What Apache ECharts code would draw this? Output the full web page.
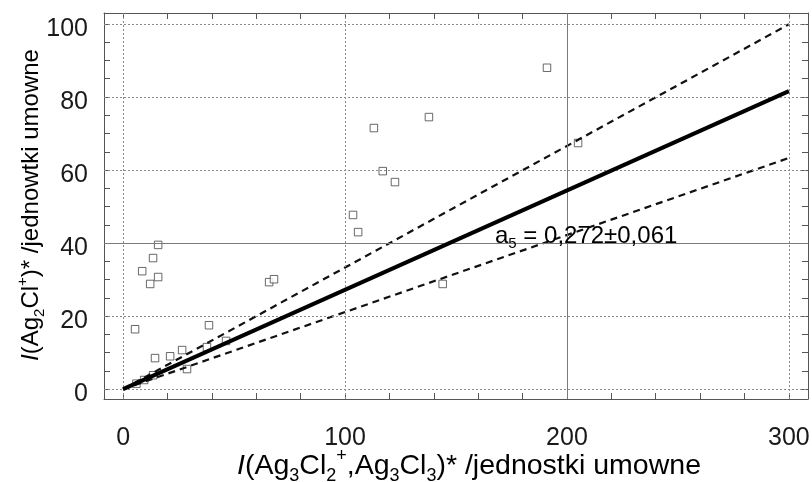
<!DOCTYPE html>
<html>
<head>
<meta charset="utf-8">
<script src="https://cdn.jsdelivr.net/npm/echarts@6/dist/echarts.min.js"></script>
<style>
html,body{margin:0;padding:0;background:#fff;}
#chart{width:812px;height:482px;}
</style>
</head>
<body>
<div id="chart"></div>
<script>
// Scatter data: I(Ag3Cl2+,Ag3Cl3)* vs I(Ag2Cl+)*
var pointsX = [5.4, 8.6, 12.2, 13.5, 15.8, 15.8, 14.4, 21.2, 26.6, 28.8, 37.8, 38.7, 46.4, 6.0, 9.5, 13.5, 65.8, 68.0, 103.6, 105.9, 113.0, 117.0, 122.5, 137.8, 144.0, 191.0, 205.0];
var pointsY = [16.4, 32.3, 28.8, 35.9, 39.5, 30.7, 8.5, 9.0, 10.7, 5.5, 11.5, 17.5, 13.2, 1.5, 2.5, 3.8, 29.3, 30.1, 47.7, 43.0, 71.5, 59.7, 56.7, 74.5, 28.8, 88.0, 67.4];

// Fit line (slope 0.272) and its bounds (±0.061)
var fitX = [0, 300];
var fitY = [0, 81.6];
var upperY = [0, 99.9];
var lowerY = [0, 63.3];

// Tick / label values
var xLabels = [0, 100, 200, 300];
var yLabels = [0, 20, 40, 60, 80, 100];
var xTicks = [0,20,40,60,80,100,120,140,160,180,200,220,240,260,280,300];
var yTicks = [0,5,10,15,20,25,30,35,40,45,50,55,60,65,70,75,80,85,90,95,100];
var gridXDotted = [0, 100, 300];
var gridXSolid = [200];
var gridYDotted = [0, 20, 60, 80, 100];
var gridYSolid = [40];

var annotation = '{a|a}{s|5}{a| = 0,272±0,061}';

function pairs(xs, ys){ return xs.map(function(x,i){ return [x, ys[i]]; }); }

var chart = echarts.init(document.getElementById('chart'), null, {renderer:'canvas'});

var FONT = 'Liberation Sans, Arial, sans-serif';
var TXT = '#1a1a1a';
var AX = '#555';

var dottedStyle = {type:[2,2], color:'#8a8a8a', width:1};
var solidStyle = {type:'solid', color:'#7a7a7a', width:1};
var gridLines = []
  .concat(gridXDotted.map(function(v){ return {xAxis:v, lineStyle:dottedStyle}; }))
  .concat(gridXSolid.map(function(v){ return {xAxis:v, lineStyle:solidStyle}; }))
  .concat(gridYDotted.map(function(v){ return {yAxis:v, lineStyle:dottedStyle}; }))
  .concat(gridYSolid.map(function(v){ return {yAxis:v, lineStyle:solidStyle}; }));

function richFor(size){
  var s = Math.round(size*0.62);
  return {
    i:{fontFamily:FONT, fontSize:size, fontStyle:'italic', color:TXT, lineHeight:Math.round(size*1.35)},
    n:{fontFamily:FONT, fontSize:size, color:TXT, lineHeight:Math.round(size*1.35)},
    sub:{fontFamily:FONT, fontSize:s, color:TXT, lineHeight:s, verticalAlign:'bottom'},
    sup:{fontFamily:FONT, fontSize:s, color:TXT, lineHeight:s, verticalAlign:'top'}
  };
}

function xTickAxis(pos, showLabel){
  return {
    type:'value', position:pos, min:-8.6, max:308.6,
    axisLine:{show:true, onZero:false, lineStyle:{color:AX, width:1}},
    axisTick:{show:true, inside:true, length:6, customValues:xTicks, lineStyle:{color:AX}},
    axisLabel:{show:showLabel, customValues:xLabels, margin:27, fontSize:25, fontFamily:FONT, color:TXT},
    splitLine:{show:false}
  };
}
function yTickAxis(pos, showLabel){
  return {
    type:'value', position:pos, min:-2.7, max:103,
    axisLine:{show:true, onZero:false, lineStyle:{color:AX, width:1}},
    axisTick:{show:true, inside:true, length:6, customValues:yTicks, lineStyle:{color:AX}},
    axisLabel:{show:showLabel, customValues:yLabels, margin:16, fontSize:25, fontFamily:FONT, color:TXT, verticalAlign:'top', lineHeight:10},
    splitLine:{show:false}
  };
}

var option = {
  backgroundColor:'#fff',
  animation:false,
  grid:{left:104, right:4, top:13, bottom:83, outerBoundsMode:'none', containLabel:false},
  xAxis:[xTickAxis('bottom', true), xTickAxis('top', false)],
  yAxis:[yTickAxis('left', true), yTickAxis('right', false)],
  series:[
    {
      type:'line', data:[], xAxisIndex:0, yAxisIndex:0, z:1, silent:true,
      markLine:{silent:true, symbol:['none','none'], label:{show:false}, data:gridLines, animation:false}
    },
    {
      type:'scatter', data:pairs(pointsX, pointsY), xAxisIndex:0, yAxisIndex:0, z:3,
      symbol:'rect', symbolSize:7.5,
      itemStyle:{color:'#fff', borderColor:'#444', borderWidth:1}
    },
    {
      type:'line', data:pairs(fitX, upperY), xAxisIndex:0, yAxisIndex:0, z:4,
      symbol:'none', lineStyle:{color:'#111', width:2.2, type:[7,5]}
    },
    {
      type:'line', data:pairs(fitX, lowerY), xAxisIndex:0, yAxisIndex:0, z:4,
      symbol:'none', lineStyle:{color:'#111', width:2.2, type:[7,5]}
    },
    {
      type:'line', data:pairs(fitX, fitY), xAxisIndex:0, yAxisIndex:0, z:5,
      symbol:'none', lineStyle:{color:'#000', width:4}
    }
  ],
  graphic:[
    {
      type:'text', x:469, y:466, z:10,
      style:{
        text:'{i|I}{n|(Ag}{sub|3}{n|Cl}{sub|2}{sup|+}{n|,Ag}{sub|3}{n|Cl}{sub|3}{n|)* /jednostki umowne}',
        rich:richFor(28.5), align:'center', verticalAlign:'middle'
      }
    },
    {
      type:'text', x:31, y:205, rotation:Math.PI/2, z:10,
      style:{
        text:'{i|I}{n|(Ag}{sub|2}{n|Cl}{sup|+}{n|)* /jednowtki umowne}',
        rich:richFor(24), align:'center', verticalAlign:'middle'
      }
    },
    {
      type:'text', x:495, y:236, z:10,
      style:{
        text:annotation,
        rich:{
          a:{fontFamily:FONT, fontSize:24, color:TXT, lineHeight:30},
          s:{fontFamily:FONT, fontSize:15, color:TXT, lineHeight:15, verticalAlign:'bottom'}
        },
        align:'left', verticalAlign:'middle'
      }
    }
  ]
};
chart.setOption(option);
</script>
</body>
</html>
